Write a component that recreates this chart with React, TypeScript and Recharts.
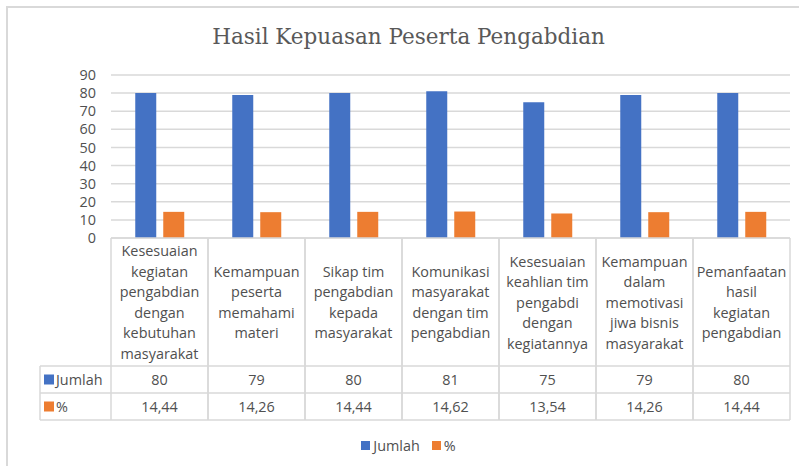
import React from 'react';
import { BarChart, Bar, XAxis, YAxis, CartesianGrid } from 'recharts';

const categoryLines: string[][] = [
  ['Kesesuaian', 'kegiatan', 'pengabdian', 'dengan', 'kebutuhan', 'masyarakat'],
  ['Kemampuan', 'peserta', 'memahami', 'materi'],
  ['Sikap tim', 'pengabdian', 'kepada', 'masyarakat'],
  ['Komunikasi', 'masyarakat', 'dengan tim', 'pengabdian'],
  ['Kesesuaian', 'keahlian tim', 'pengabdi', 'dengan', 'kegiatannya'],
  ['Kemampuan', 'dalam', 'memotivasi', 'jiwa bisnis', 'masyarakat'],
  ['Pemanfaatan', 'hasil', 'kegiatan', 'pengabdian'],
];
const jumlah = [80, 79, 80, 81, 75, 79, 80];
const persen = [14.44, 14.26, 14.44, 14.62, 13.54, 14.26, 14.44];
const yTicks = [0, 10, 20, 30, 40, 50, 60, 70, 80, 90];
const seriesNames = ['Jumlah', '%'];
const TITLE = 'Hasil Kepuasan Peserta Pengabdian';

const data = categoryLines.map((lines, i) => ({
  name: lines.join(' '),
  jumlah: jumlah[i],
  persen: persen[i],
}));

const BLUE = '#4472C4';
const ORANGE = '#ED7D31';
const GRID = '#d9d9d9';
const TXT = '#505050';
const FONT = '"Open Sans", "Noto Sans", sans-serif';

const W = 799;
const H = 466;
const M = { top: 75, right: 9, left: 0, bottom: 0 };
const Y_W = 111;
const X_H = 228;
const COL_W = (W - M.left - M.right - Y_W) / categoryLines.length;
const LABEL_H = 128;
const ROW_H = 27;
const LINE_H = 20.5;
const HEAD_W = 71;

const fmt = (v: number) => v.toFixed(2).replace('.', ',');

const TableTick = (props: any) => {
  const { x, y, payload } = props;
  const idx = payload?.index ?? props.index ?? 0;
  const lines = categoryLines[idx] || [];
  const l = x - COL_W / 2;
  const r = x + COL_W / 2;
  const y1 = y + LABEL_H;
  const y2 = y1 + ROW_H;
  const y3 = y2 + ROW_H;
  const mid = y + LABEL_H / 2;
  const textStyle = { fontFamily: FONT, fontSize: 14.4, fill: TXT } as any;
  return (
    <g>
      <line x1={l} y1={y} x2={l} y2={y3} stroke={GRID} strokeWidth={1.5} />
      <line x1={r} y1={y} x2={r} y2={y3} stroke={GRID} strokeWidth={1.5} />
      <line x1={l} y1={y1} x2={r} y2={y1} stroke={GRID} strokeWidth={1.5} />
      <line x1={l} y1={y2} x2={r} y2={y2} stroke={GRID} strokeWidth={1.5} />
      <line x1={l} y1={y3} x2={r} y2={y3} stroke={GRID} strokeWidth={1.5} />
      {lines.map((t, i) => (
        <text
          key={i}
          x={x}
          y={mid + (i - (lines.length - 1) / 2) * LINE_H}
          textAnchor="middle"
          dominantBaseline="central"
          style={textStyle}
        >
          {t}
        </text>
      ))}
      <text x={x} y={y1 + ROW_H / 2} textAnchor="middle" dominantBaseline="central" style={textStyle}>
        {jumlah[idx]}
      </text>
      <text x={x} y={y2 + ROW_H / 2} textAnchor="middle" dominantBaseline="central" style={textStyle}>
        {fmt(persen[idx])}
      </text>
      {idx === 0 && (
        <g>
          <line x1={l - HEAD_W} y1={y1} x2={l} y2={y1} stroke={GRID} strokeWidth={1.5} />
          <line x1={l - HEAD_W} y1={y2} x2={l} y2={y2} stroke={GRID} strokeWidth={1.5} />
          <line x1={l - HEAD_W} y1={y3} x2={l} y2={y3} stroke={GRID} strokeWidth={1.5} />
          <line x1={l - HEAD_W} y1={y1} x2={l - HEAD_W} y2={y3} stroke={GRID} strokeWidth={1.5} />
          <rect x={l - HEAD_W + 4} y={y1 + ROW_H / 2 - 5} width={10} height={10} fill={BLUE} />
          <text x={l - HEAD_W + 16} y={y1 + ROW_H / 2} dominantBaseline="central" style={textStyle}>
            {seriesNames[0]}
          </text>
          <rect x={l - HEAD_W + 4} y={y2 + ROW_H / 2 - 5} width={10} height={10} fill={ORANGE} />
          <text x={l - HEAD_W + 16} y={y2 + ROW_H / 2} dominantBaseline="central" style={textStyle}>
            {seriesNames[1]}
          </text>
        </g>
      )}
    </g>
  );
};

export default function App() {
  return (
    <div
      style={{
        position: 'fixed',
        left: 0,
        top: 0,
        width: W,
        height: H,
        background: '#fff',
        overflow: 'hidden',
      }}
    >
      <div
        style={{
          position: 'absolute',
          left: 6,
          top: 6,
          width: 820,
          height: 500,
          border: `2px solid ${GRID}`,
          boxSizing: 'border-box',
        }}
      />
      <div
        style={{
          position: 'absolute',
          left: 0,
          width: 817,
          top: 23,
          textAlign: 'center',
          fontFamily: '"DejaVu Serif", "Liberation Serif", serif',
          fontSize: 21.5,
          color: '#595959',
          lineHeight: '28px',
        }}
      >
        {TITLE}
      </div>
      <div style={{ position: 'absolute', left: 0, top: 0 }}>
        <BarChart
          width={W}
          height={H}
          data={data}
          margin={M}
          barCategoryGap="25%"
          barGap={7}
        >
          <CartesianGrid vertical={false} stroke={GRID} strokeWidth={1.5} />
          <XAxis
            dataKey="name"
            interval={0}
            height={X_H}
            tickLine={false}
            tickSize={0}
            tickMargin={0}
            axisLine={{ stroke: GRID, strokeWidth: 1.5 }}
            tick={<TableTick />}
          />
          <YAxis
            width={Y_W}
            domain={[0, 90]}
            ticks={yTicks}
            interval={0}
            axisLine={false}
            tickLine={false}
            tickSize={0}
            tickMargin={15}
            tick={{ fontFamily: FONT, fontSize: 14.4, fill: TXT }}
          />
          <Bar dataKey="jumlah" name={seriesNames[0]} fill={BLUE} isAnimationActive={false} />
          <Bar dataKey="persen" name={seriesNames[1]} fill={ORANGE} isAnimationActive={false} />
        </BarChart>
      </div>
      <div
        style={{
          position: 'absolute',
          top: 436,
          left: 0,
          width: 817,
          display: 'flex',
          justifyContent: 'center',
          alignItems: 'center',
          fontFamily: FONT,
          fontSize: 14.4,
          color: TXT,
          gap: 12,
        }}
      >
        <span style={{ display: 'flex', alignItems: 'center' }}>
          <span style={{ width: 9, height: 9, background: BLUE, display: 'inline-block', marginRight: 3 }} />
          {seriesNames[0]}
        </span>
        <span style={{ display: 'flex', alignItems: 'center' }}>
          <span style={{ width: 9, height: 9, background: ORANGE, display: 'inline-block', marginRight: 3 }} />
          {seriesNames[1]}
        </span>
      </div>
    </div>
  );
}
